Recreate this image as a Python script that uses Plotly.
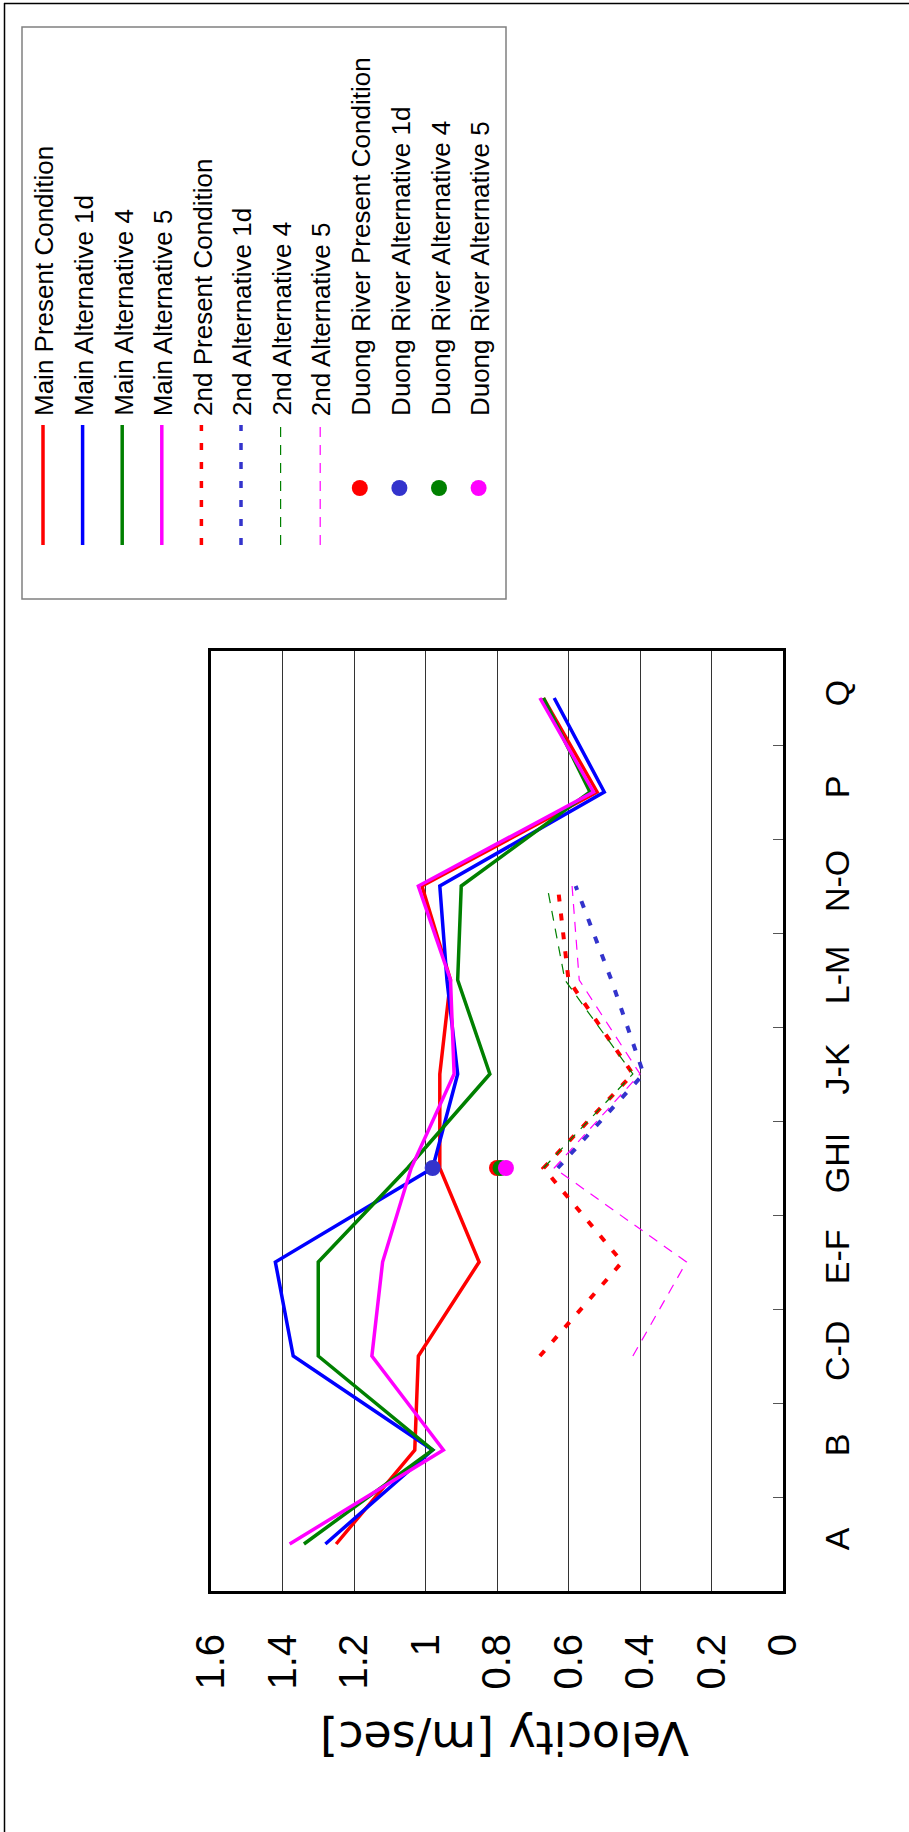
import plotly.graph_objects as go

# ---------------- data ----------------
categories = ["A", "B", "C-D", "E-F", "GHI", "J-K", "L-M", "N-O", "P", "Q"]

main_present = [1.25, 1.03, 1.02, 0.85, 0.96, 0.96, 0.93, 1.01, 0.52, 0.67]
main_alt1d = [1.28, 0.98, 1.37, 1.42, 0.98, 0.91, 0.94, 0.96, 0.50, 0.64]
main_alt4 = [1.34, 0.98, 1.30, 1.30, 1.05, 0.82, 0.91, 0.90, 0.54, 0.67]
main_alt5 = [1.38, 0.95, 1.15, 1.12, 1.04, 0.92, 0.93, 1.02, 0.53, 0.68]

second_present = [None, None, 0.68, 0.45, 0.67, 0.42, 0.60, 0.63, None, None]
second_alt1d = [None, None, None, None, 0.63, 0.39, 0.48, 0.58, None, None]
second_alt4 = [None, None, None, None, 0.67, 0.42, 0.61, 0.66, None, None]
second_alt5 = [None, None, 0.42, 0.27, 0.64, 0.40, 0.57, 0.59, None, None]

duong_category = "GHI"
duong_present = 0.80
duong_alt1d = 0.98
duong_alt4 = 0.79
duong_alt5 = 0.775

velocity_ticks = [1.6, 1.4, 1.2, 1.0, 0.8, 0.6, 0.4, 0.2, 0.0]
velocity_ticktext = ["1.6", "1.4", "1.2", "1", "0.8", "0.6", "0.4", "0.2", "0"]

series_names = [
    "Main Present Condition", "Main Alternative 1d", "Main Alternative 4", "Main Alternative 5",
    "2nd Present Condition", "2nd Alternative 1d", "2nd Alternative 4", "2nd Alternative 5",
    "Duong River Present Condition", "Duong River Alternative 1d",
    "Duong River Alternative 4", "Duong River Alternative 5",
]

# ---------------- styles ----------------
RED, BLUE, GREEN, MAG, PBLUE = "#FF0000", "#0000FF", "#008000", "#FF00FF", "#3333CC"
FONT = "Liberation Sans, Arial, sans-serif"
WIDE_FONT = "DejaVu Sans, Liberation Sans, sans-serif"

line_series = [
    (main_present, RED, 3.5, "solid"),
    (main_alt1d, BLUE, 3.5, "solid"),
    (main_alt4, GREEN, 3.5, "solid"),
    (main_alt5, MAG, 3.5, "solid"),
    (second_present, RED, 4, "7px,12px"),
    (second_alt1d, PBLUE, 4, "7px,12px"),
    (second_alt4, GREEN, 1.2, "10px,8px"),
    (second_alt5, MAG, 1.2, "10px,8px"),
]
dot_series = [
    (duong_present, RED),
    (duong_alt1d, PBLUE),
    (duong_alt4, GREEN),
    (duong_alt5, MAG),
]

W, H = 909, 1832
L, R, T, B = 211, 783, 651, 1591  # plot area in pixels


def px_x(p):
    return (p - L) / (R - L)


def px_y(p):
    return (B - p) / (B - T)


fig = go.Figure()

for (vals, col, w, dash), name in zip(line_series, series_names[:8]):
    fig.add_trace(go.Scatter(
        x=vals, y=categories, mode="lines", name=name,
        line=dict(color=col, width=w, dash=dash), connectgaps=False,
    ))

for (val, col), name in zip(dot_series, series_names[8:]):
    fig.add_trace(go.Scatter(
        x=[val], y=[duong_category], mode="markers", name=name,
        marker=dict(color=col, size=16, line=dict(width=0)),
    ))

shapes = []
annotations = []

# outer chart border (top and left visible)
shapes.append(dict(type="line", xref="paper", yref="paper",
                   x0=px_x(4), x1=px_x(W + 5), y0=px_y(3.5), y1=px_y(3.5),
                   line=dict(color="black", width=1.5)))
shapes.append(dict(type="line", xref="paper", yref="paper",
                   x0=px_x(4.5), x1=px_x(4.5), y0=px_y(3), y1=px_y(H + 5),
                   line=dict(color="black", width=1.5)))

# legend box
shapes.append(dict(type="rect", xref="paper", yref="paper",
                   x0=px_x(22), x1=px_x(506), y0=px_y(599), y1=px_y(27),
                   line=dict(color="#808080", width=1.5), fillcolor="white", layer="below"))

legend_styles = [(c, w, d, "line") for (_, c, w, d) in line_series] + \
                [(c, 0, None, "dot") for (_, c) in dot_series]

for i, (name, (col, w, dash, kind)) in enumerate(zip(series_names, legend_styles)):
    cx = 43 + 39.6 * i
    if kind == "line":
        shapes.append(dict(type="line", xref="paper", yref="paper",
                           x0=px_x(cx), x1=px_x(cx), y0=px_y(545), y1=px_y(425),
                           line=dict(color=col, width=min(w, 3.5), dash=dash)))
    else:
        r = 8
        shapes.append(dict(type="circle", xref="paper", yref="paper",
                           x0=px_x(cx - r), x1=px_x(cx + r), y0=px_y(488 + r), y1=px_y(488 - r),
                           line=dict(width=0), fillcolor=col))
    annotations.append(dict(text=name, xref="paper", yref="paper",
                            x=px_x(cx + 1), y=px_y(418), xanchor="center", yanchor="bottom",
                            textangle=-90, showarrow=False,
                            font=dict(family=FONT, size=26, color="black")))

# axis title (upside down, as in the rotated reference)
annotations.append(dict(text="Velocity [m/sec]", xref="paper", yref="paper",
                        x=px_x(505), y=px_y(1738), xanchor="center", yanchor="middle",
                        textangle=180, showarrow=False,
                        font=dict(family=WIDE_FONT, size=46, color="black")))

fig.update_layout(
    width=W, height=H,
    margin=dict(l=L, r=W - R, t=T, b=H - B, pad=0),
    paper_bgcolor="white", plot_bgcolor="white",
    showlegend=False,
    shapes=shapes, annotations=annotations,
    xaxis=dict(
        range=[1.6, 0], tickvals=velocity_ticks, ticktext=velocity_ticktext,
        tickangle=-90, tickfont=dict(family=FONT, size=40, color="black"),
        showgrid=True, gridcolor="#333333", gridwidth=1, zeroline=False,
        showline=True, linecolor="black", linewidth=3, mirror=True,
        ticks="", ticklabelstandoff=24, fixedrange=True,
    ),
    yaxis=dict(
        type="category", categoryorder="array", categoryarray=categories,
        side="right", tickangle=-90,
        tickfont=dict(family=FONT, size=34, color="black"),
        showgrid=False, zeroline=False,
        showline=True, linecolor="black", linewidth=3, mirror=True,
        ticks="inside", tickson="boundaries", ticklen=10, tickcolor="#555555", tickwidth=1,
        ticklabelstandoff=22, fixedrange=True,
    ),
)

fig.write_html(
    "out.html",
    config={"displayModeBar": False, "staticPlot": True},
    post_script="document.body.style.margin='0px';document.body.style.padding='0px';",
)
